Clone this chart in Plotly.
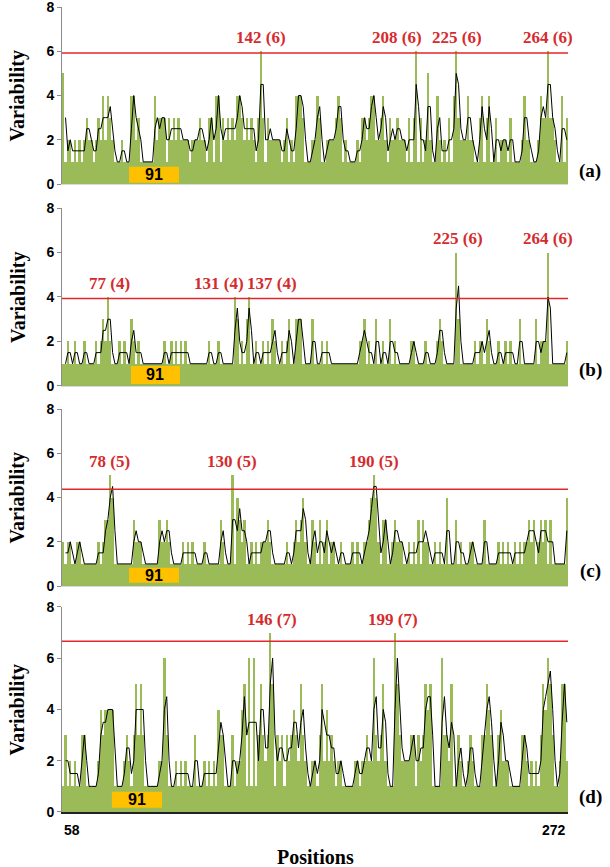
import plotly.graph_objects as go
from plotly.subplots import make_subplots
import pandas as pd

# ---------------- data ----------------
positions = list(range(58, 273))

var_a = [5,1,2,2,1,2,1,2,1,2,
         3,2,2,1,2,3,2,4,2,4,
         3,2,1,1,1,2,1,1,1,4,
         4,2,3,1,1,1,1,1,1,4,
         2,3,3,3,1,3,2,3,2,3,
         2,2,2,2,1,2,2,2,3,2,
         2,1,3,3,1,4,4,1,3,2,
         3,2,3,2,4,4,3,2,3,2,
         3,2,1,3,6,3,1,3,2,2,
         2,2,2,1,2,3,1,2,1,4,
         4,4,3,1,1,1,2,2,4,3,
         1,1,2,2,2,2,3,4,3,1,
         2,1,1,1,1,2,1,3,3,2,
         3,4,4,2,2,3,4,2,1,3,
         2,2,3,2,2,2,1,3,1,3,
         6,1,3,1,2,5,2,1,1,4,
         2,1,2,1,3,1,4,6,3,2,
         2,2,4,2,2,1,1,3,4,1,
         3,4,1,1,3,1,2,2,2,1,
         3,1,1,1,1,2,4,2,2,1,
         1,1,2,4,3,3,6,3,3,2,
         1,1,4,1,3]

var_b = [1,1,2,1,1,2,1,1,1,2,
         1,1,1,1,2,1,2,3,2,4,
         2,1,1,1,2,1,2,1,1,3,
         2,1,2,1,1,1,1,1,1,1,
         1,1,1,2,1,1,2,1,2,1,
         2,1,2,1,1,1,1,1,1,1,
         1,1,2,1,1,1,2,1,1,1,
         1,1,1,4,3,1,2,1,3,4,
         1,1,2,1,1,2,1,2,1,3,
         2,1,1,2,1,2,3,1,1,3,
         3,3,1,1,1,1,3,1,1,1,
         2,1,2,1,1,1,1,1,1,1,
         1,1,1,1,1,1,2,2,3,1,
         2,1,1,3,1,1,2,1,1,3,
         1,2,1,1,1,1,1,1,2,2,
         1,1,1,1,2,1,1,1,1,2,
         3,2,1,1,1,1,1,6,3,1,
         1,1,1,1,1,2,1,2,2,1,
         3,2,1,1,1,2,1,1,2,1,
         2,1,1,1,3,1,1,1,1,1,
         1,3,1,2,2,2,6,1,1,1,
         1,1,1,1,2]

var_c = [2,1,2,2,1,1,2,2,1,1,
         1,1,1,1,1,2,1,2,3,3,
         5,4,1,1,1,1,1,1,1,1,
         3,2,2,2,1,1,1,1,1,1,
         1,3,2,2,3,2,1,1,1,1,
         1,2,1,2,1,2,1,1,1,1,
         2,1,1,1,1,1,1,3,2,1,
         1,1,5,1,4,3,2,3,1,1,
         2,1,2,1,2,2,2,3,2,1,
         1,1,1,1,1,2,1,1,2,3,
         2,3,4,2,1,1,3,2,1,3,
         1,2,3,1,2,2,1,1,2,1,
         1,1,1,2,1,2,1,1,2,2,
         3,4,5,4,2,1,3,3,1,1,
         2,3,2,2,2,1,1,2,1,2,
         1,3,1,3,2,2,1,1,2,1,
         2,1,1,4,1,1,1,3,1,2,
         1,1,1,2,2,1,1,1,1,3,
         1,1,1,1,1,2,1,2,1,2,
         1,1,2,1,2,1,2,2,3,2,
         3,1,2,3,2,3,1,3,1,1,
         1,1,1,1,4]

var_d = [1,3,1,2,1,2,1,1,3,3,
         1,1,1,1,1,2,4,3,4,4,
         4,4,1,1,1,1,2,3,2,1,
         3,5,3,5,3,1,1,1,1,1,
         1,2,2,6,3,1,1,1,2,1,
         2,1,2,1,1,1,3,1,1,1,
         2,1,2,1,2,1,4,3,3,1,
         1,1,3,1,2,2,4,5,1,6,
         1,6,1,3,5,3,2,3,7,5,
         1,3,2,3,1,3,2,3,4,3,
         2,5,3,2,1,1,2,2,1,3,
         5,2,4,2,3,2,1,2,2,1,
         1,1,1,1,2,2,1,2,2,3,
         2,2,6,3,2,3,5,2,1,1,
         1,7,5,3,2,2,2,2,3,3,
         1,3,2,3,5,4,5,1,1,1,
         1,6,3,3,2,5,1,1,3,2,
         1,1,2,3,2,1,1,1,3,3,
         5,4,3,1,1,3,4,2,2,2,
         1,1,1,1,1,3,3,2,1,2,
         1,2,1,3,5,4,6,5,3,1,
         1,2,5,5,2]

series = [var_a, var_b, var_c, var_d]
thresholds = [5.92, 3.93, 4.37, 6.66]
panel_letters = ["(a)", "(b)", "(c)", "(d)"]
peak_texts = [["142 (6)", "208 (6)", "225 (6)", "264 (6)"],
              ["77 (4)", "131 (4)", "137 (4)", "225 (6)", "264 (6)"],
              ["78 (5)", "130 (5)", "190 (5)"],
              ["146 (7)", "199 (7)"]]
region_label = "91"
x_tick_labels = ["58", "272"]

# ---------------- layout helpers (positions / styles) ----------------
peak_text_x = [[142, 199.7, 225.5, 264],
               [77.5, 124.2, 146.7, 225.6, 264],
               [77.8, 129.8, 189.9],
               [146.7, 198]]
peak_text_y = [[6.62] * 4,
               [4.6, 4.6, 4.6, 6.65, 6.65],
               [5.62] * 3,
               [7.5] * 2]
box_x = [(86, 107.2), (86.8, 107.6), (86, 107.2), (78.7, 100)]
box_y = [(0.06, 0.78), (0.09, 0.9), (0.15, 0.83), (0.17, 0.79)]
domains = [(0.7801, 1.0), (0.5292, 0.7503), (0.2807, 0.5006), (0.0, 0.2547)]
letter_y = [0.796, 0.549, 0.299, 0.0186]

GREEN = "#9BBB59"
RED = "#E3262C"
LABEL_RED = "#D52B2E"
SERIF = "Liberation Serif, Times New Roman, serif"
SANS = "Liberation Sans, Arial, sans-serif"

fig = make_subplots(rows=4, cols=1)

for i, vals in enumerate(series):
    r = i + 1
    fig.add_trace(go.Bar(x=positions, y=vals, width=1.0,
                         marker=dict(color=GREEN, line=dict(width=0)),
                         showlegend=False, hoverinfo="x+y"), row=r, col=1)
    ma = pd.Series(vals, index=positions).rolling(2).mean().dropna()
    fig.add_trace(go.Scatter(x=list(ma.index), y=list(ma.values), mode="lines",
                             line=dict(color="black", width=1),
                             showlegend=False), row=r, col=1)
    xref = "x" if r == 1 else f"x{r}"
    yref = "y" if r == 1 else f"y{r}"
    fig.add_shape(type="line", xref=xref, yref=yref, x0=57.5, x1=272.5,
                  y0=thresholds[i], y1=thresholds[i],
                  line=dict(color=RED, width=1.5))
    fig.add_shape(type="rect", xref=xref, yref=yref,
                  x0=box_x[i][0], x1=box_x[i][1], y0=box_y[i][0], y1=box_y[i][1],
                  fillcolor="#FFC000", line=dict(width=0), layer="above")
    fig.add_annotation(xref=xref, yref=yref,
                       x=(box_x[i][0] + box_x[i][1]) / 2,
                       y=(box_y[i][0] + box_y[i][1]) / 2,
                       text=f"<b>{region_label}</b>", showarrow=False,
                       font=dict(family=SANS, size=16, color="black"))
    for t, px, py in zip(peak_texts[i], peak_text_x[i], peak_text_y[i]):
        fig.add_annotation(xref=xref, yref=yref, x=px, y=py,
                           text=f"<b>{t}</b>", showarrow=False,
                           font=dict(family=SERIF, size=17, color=LABEL_RED))
    fig.add_annotation(xref="paper", yref="paper", x=1.0435, y=letter_y[i],
                       yanchor="middle", xanchor="center",
                       text=f"<b>{panel_letters[i]}</b>", showarrow=False,
                       font=dict(family=SERIF, size=19, color="black"))
    fig.add_annotation(xref="paper", yref="paper", x=-0.087,
                       y=(domains[i][0] + domains[i][1]) / 2,
                       yanchor="middle", xanchor="center",
                       text="<b>Variability</b>", showarrow=False, textangle=-90,
                       font=dict(family=SERIF, size=20, color="black"))

    fig.update_yaxes(row=r, col=1, domain=list(domains[i]), range=[0, 8],
                     tickvals=[0, 2, 4, 6, 8], ticks="outside", ticklen=4,
                     tickcolor="#8c8c8c", showline=True, linecolor="#8c8c8c",
                     linewidth=1, showgrid=False, zeroline=False, automargin=False,
                     ticklabeloverflow="allow",
                     tickfont=dict(family=SANS, size=14, color="black", weight="bold"))
    fig.update_xaxes(row=r, col=1, range=[57.5, 272.5], showticklabels=False,
                     ticks="", showgrid=False, zeroline=False, showline=True,
                     automargin=False,
                     linecolor="#222222" if r == 4 else "#d9d9d9",
                     linewidth=2 if r == 4 else 1)

fig.add_annotation(xref="x4", yref="paper", x=57.5, y=-0.0224, xanchor="left",
                   yanchor="middle",
                   text=f"<b>{x_tick_labels[0]}</b>", showarrow=False,
                   font=dict(family=SANS, size=14, color="black"))
fig.add_annotation(xref="x4", yref="paper", x=272.5, y=-0.0224, xanchor="right",
                   yanchor="middle",
                   text=f"<b>{x_tick_labels[1]}</b>", showarrow=False,
                   font=dict(family=SANS, size=14, color="black"))
fig.add_annotation(xref="paper", yref="paper", x=0.5, y=-0.056,
                   yanchor="middle",
                   text="<b>Positions</b>", showarrow=False,
                   font=dict(family=SERIF, size=20, color="black"))

fig.update_layout(width=610, height=867, bargap=0,
                  margin=dict(l=62, r=42, t=7, b=55, autoexpand=False),
                  plot_bgcolor="white", paper_bgcolor="white",
                  showlegend=False)

fig.write_html("out.html", config={"displayModeBar": False},
               post_script="document.body.style.margin='0px';document.body.style.overflow='hidden';")
